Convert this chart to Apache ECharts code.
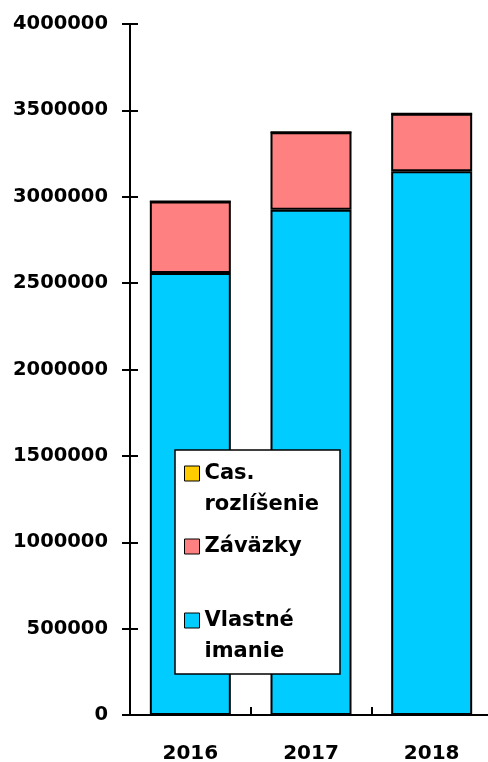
<!DOCTYPE html>
<html>
<head>
<meta charset="utf-8">
<script src="https://cdn.jsdelivr.net/npm/echarts@6/dist/echarts.min.js"></script>
<style>
  html, body { margin: 0; padding: 0; background: #fff; }
  #chart { width: 488px; height: 762px; }
</style>
</head>
<body>
<div id="chart"></div>
<script>
  const years = ['2016', '2017', '2018'];
  const vlastneImanie = [2559000, 2925000, 3148000];
  const zavazky = [414000, 449000, 332000];
  const casRozlisenie = [0, 0, 0];
  const yMin = 0;
  const yMax = 4000000;
  const yStep = 500000;

  const font = 'DejaVu Sans';
  const chart = echarts.init(document.getElementById('chart'));

  const legendText = {
    color: '#000',
    fontFamily: font,
    fontWeight: 'bold',
    fontSize: 21,
    lineHeight: 31
  };

  const legendBase = {
    left: 184, padding: 0, orient: 'vertical', z: 5,
    icon: 'rect', itemWidth: 15, itemHeight: 15,
    itemStyle: { borderColor: '#000', borderWidth: 1 },
    textStyle: legendText
  };

  const option = {
    animation: false,
    grid: [
      { left: 130, top: 24, width: 362, height: 691, outerBoundsMode: 'none', containLabel: false },
      { left: 130, top: 24, width: 362, height: 691, outerBoundsMode: 'none', containLabel: false }
    ],
    graphic: [{
      type: 'rect',
      z: 3,
      shape: { x: 175, y: 450, width: 165, height: 224 },
      style: { fill: '#fff', stroke: '#000', lineWidth: 1.5 }
    }],
    legend: [
      Object.assign({}, legendBase, {
        top: 427,
        data: ['Cas. rozlíšenie'],
        formatter: () => '\nCas.\nrozlíšenie'
      }),
      Object.assign({}, legendBase, {
        top: 531,
        data: ['Záväzky']
      }),
      Object.assign({}, legendBase, {
        top: 574,
        data: ['Vlastné imanie'],
        formatter: () => '\nVlastné\nimanie'
      })
    ],
    xAxis: [
      {
        type: 'category',
        gridIndex: 0,
        position: 'bottom',
        data: years,
        axisLine: { lineStyle: { color: '#000', width: 2 } },
        axisTick: { length: 8, lineStyle: { color: '#000', width: 2 } },
        axisLabel: {
          color: '#000', fontFamily: font, fontWeight: 'bold', fontSize: 20, margin: 29
        }
      },
      {
        // second grid: inward halves of the crossing ticks
        type: 'category',
        gridIndex: 1,
        position: 'bottom',
        data: years,
        axisLine: { show: false },
        axisTick: { show: true, inside: true, length: 8, lineStyle: { color: '#000', width: 2 } },
        axisLabel: { show: false }
      }
    ],
    yAxis: [
      {
        type: 'value',
        gridIndex: 0,
        position: 'left',
        min: yMin, max: yMax, interval: yStep,
        axisLine: { show: true, lineStyle: { color: '#000', width: 2 } },
        axisTick: { show: true, length: 8, lineStyle: { color: '#000', width: 2 } },
        splitLine: { show: false },
        axisLabel: {
          color: '#000', fontFamily: font, fontWeight: 'bold', fontSize: 19.5, margin: 22,
          formatter: v => String(v)
        }
      },
      {
        type: 'value',
        gridIndex: 1,
        position: 'left',
        min: yMin, max: yMax, interval: yStep,
        axisLine: { show: false },
        axisTick: { show: true, inside: true, length: 8, lineStyle: { color: '#000', width: 2 } },
        splitLine: { show: false },
        axisLabel: { show: false }
      }
    ],
    series: [
      {
        name: 'Vlastné imanie',
        type: 'bar',
        stack: 'total',
        barWidth: 81,
        data: vlastneImanie,
        itemStyle: { color: '#00CCFF', borderColor: '#000', borderWidth: 2 }
      },
      {
        name: 'Záväzky',
        type: 'bar',
        stack: 'total',
        barWidth: 81,
        data: zavazky,
        itemStyle: { color: '#FF8080', borderColor: '#000', borderWidth: 2 }
      },
      {
        name: 'Cas. rozlíšenie',
        type: 'bar',
        stack: 'total',
        barWidth: 81,
        data: casRozlisenie,
        itemStyle: { color: '#FFCC00', borderColor: '#000', borderWidth: 2 }
      },
      {
        // invisible series so the tick-only axes get laid out
        type: 'bar',
        xAxisIndex: 1,
        yAxisIndex: 1,
        silent: true,
        barWidth: 1,
        itemStyle: { opacity: 0 },
        data: casRozlisenie
      }
    ]
  };

  chart.setOption(option);
</script>
</body>
</html>
